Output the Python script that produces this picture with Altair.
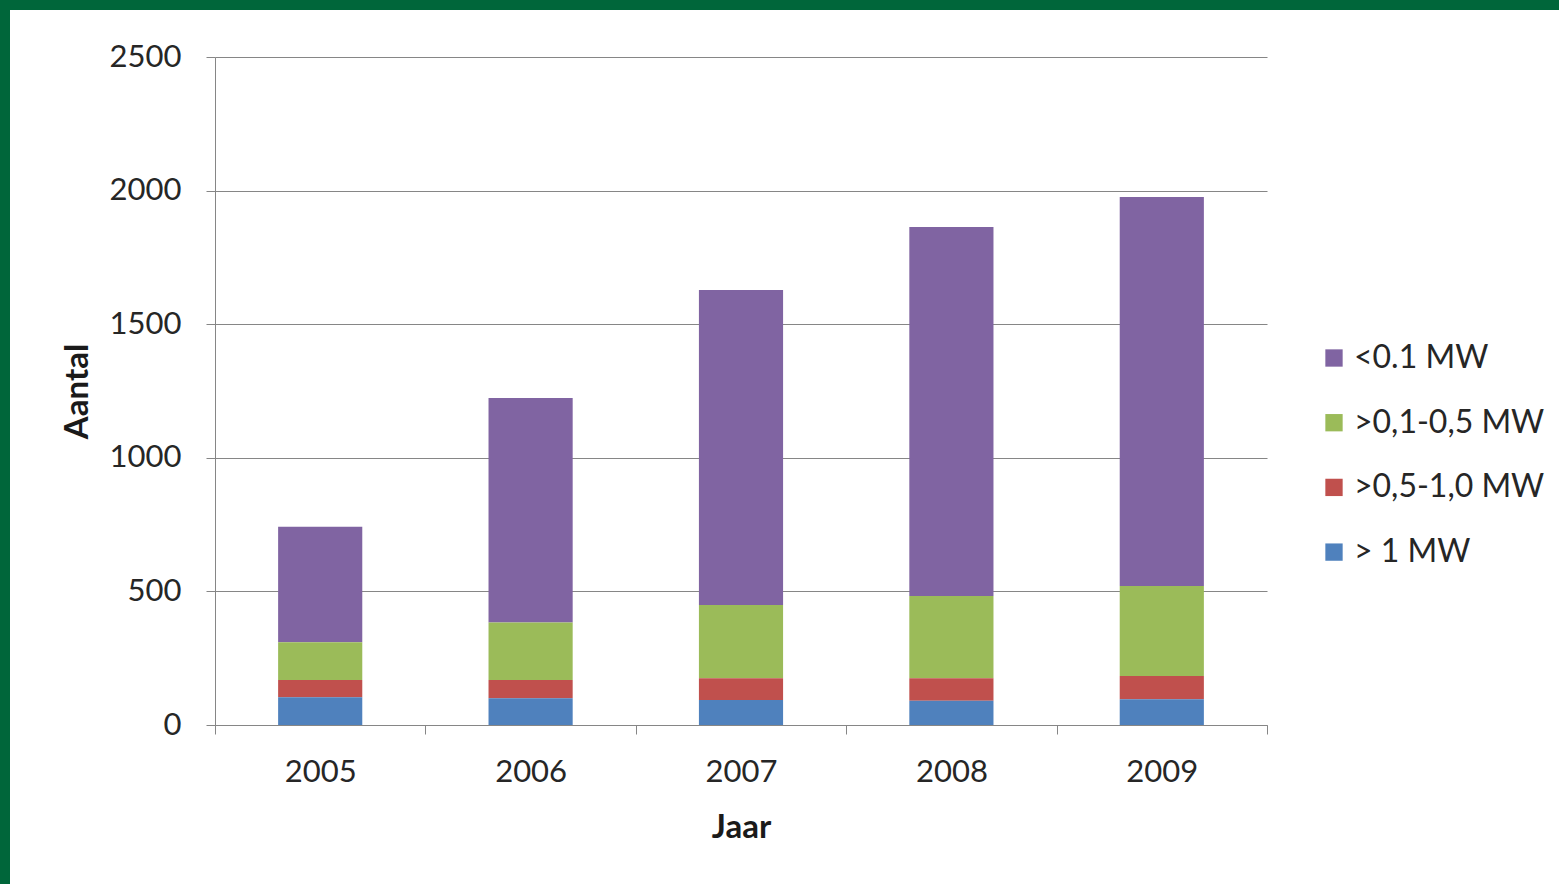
import altair as alt
import pandas as pd

years = ["2005", "2006", "2007", "2008", "2009"]
categories = ["<0.1 MW", ">0,1-0,5 MW", ">0,5-1,0 MW", "> 1 MW"]
stack_order = [3, 2, 1, 0]
colors = ["#8064A2", "#9BBB59", "#C0504D", "#4F81BD"]
v_lt01 = [432, 840, 1179, 1381, 1456]
v_01_05 = [142, 216, 274, 308, 337]
v_05_10 = [64, 68, 81, 84, 87]
v_gt1 = [104, 100, 94, 91, 96]
y_ticks = [0, 500, 1000, 1500, 2000, 2500]

series = [v_lt01, v_01_05, v_05_10, v_gt1]
rows = []
for cat, o, vals in zip(categories, stack_order, series):
    for yr, v in zip(years, vals):
        rows.append({"Jaar": yr, "Klasse": cat, "Aantal": v, "o": o})
df = pd.DataFrame(rows)

W, H = 1052, 668
FONT = "Lato"
GREEN = "#00663A"

one = pd.DataFrame({"a": [0]})
frame_top = alt.Chart(one).mark_rect(color=GREEN).encode(
    x=alt.value(-215), x2=alt.value(W + 292), y=alt.value(-57), y2=alt.value(-47)
)
frame_left = alt.Chart(one).mark_rect(color=GREEN).encode(
    x=alt.value(-215), x2=alt.value(-205), y=alt.value(-57), y2=alt.value(H + 159)
)

bars = alt.Chart(df).mark_bar(width=alt.RelativeBandSize(0.4)).encode(
    x=alt.X("Jaar:N", sort=years,
            scale=alt.Scale(paddingInner=0, paddingOuter=0),
            axis=alt.Axis(title="Jaar", labelAngle=0, tickBand="extent",
                          labelFontSize=31, labelColor="#262626", labelFont=FONT,
                          titleFontSize=33, titleFont=FONT, titleFontWeight="bold",
                          titleColor="#1a1a1a", titlePadding=24,
                          domainColor="#868686", tickColor="#868686", tickSize=9,
                          labelPadding=23)),
    y=alt.Y("Aantal:Q", scale=alt.Scale(domain=[0, 2500]),
            axis=alt.Axis(title="Aantal", values=y_ticks, grid=True, format="d",
                          gridColor="#868686", gridWidth=1.2,
                          labelFontSize=31, labelColor="#262626", labelFont=FONT,
                          titleFontSize=33, titleFont=FONT, titleFontWeight="bold",
                          titleColor="#1a1a1a", titlePadding=15,
                          domainColor="#868686", tickColor="#868686", tickSize=9,
                          labelPadding=25)),
    color=alt.Color("Klasse:N",
                    scale=alt.Scale(domain=categories, range=colors),
                    legend=alt.Legend(title=None, orient="none", legendX=1103, legendY=285,
                                      symbolType="square", symbolSize=300,
                                      symbolStrokeWidth=0, labelLimit=400,
                                      labelFontSize=32, labelFont=FONT, labelColor="#262626",
                                      rowPadding=32.7, labelOffset=4)),
    order=alt.Order("o:Q", sort="ascending"),
)

chart = alt.layer(frame_top, frame_left, bars).properties(
    width=W, height=H,
    autosize=alt.AutoSizeParams(type="none"),
    padding={"left": 215, "top": 57, "right": 292, "bottom": 159},
    background="white",
).configure_view(stroke=None)

chart.save("out.html", embed_options={"renderer": "svg", "actions": False})
